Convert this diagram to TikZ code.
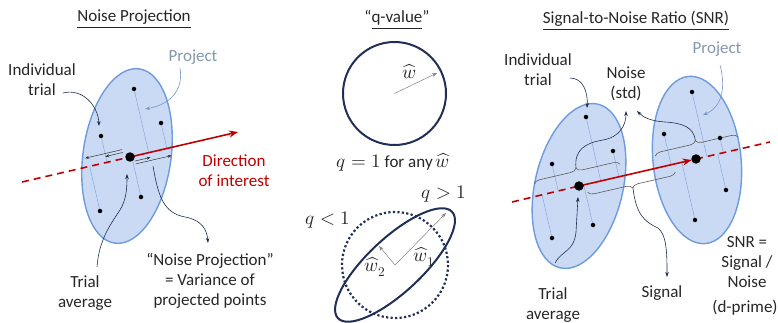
\documentclass[tikz,border=0pt]{standalone}
\usepackage{fontspec}
\usepackage{unicode-math}
\setmainfont{Carlito}
\setmathfont{Latin Modern Math}[Scale=1.12]
\usetikzlibrary{arrows.meta,calc,decorations.pathreplacing}
\definecolor{ellfill}{RGB}{203,218,244}
\definecolor{ellline}{RGB}{110,155,220}
\definecolor{projline}{RGB}{140,168,215}
\definecolor{redline}{RGB}{192,0,0}
\definecolor{navy}{RGB}{31,46,80}
\definecolor{projtxt}{RGB}{132,151,176}
\definecolor{projarrow}{RGB}{120,150,200}
\definecolor{bracegray}{RGB}{90,90,90}
\definecolor{circnavy}{RGB}{32,46,88}
\tikzset{
 cloud/.style={fill=ellfill, draw=ellline, line width=1.4pt},
 projln/.style={draw=projline, line width=0.5pt},
 obs/.style={circle, fill=black, inner sep=0pt, minimum size=4.5pt},
 bigdot/.style={circle, fill=black, inner sep=0pt, minimum size=9.5pt},
 redsolid/.style={draw=redline, line width=1.6pt, -{Stealth[length=9pt,width=7pt]}},
 reddash/.style={draw=redline, line width=1.6pt, dash pattern=on 7pt off 5pt},
 lbl/.style={font=\fontsize{17}{20}\selectfont, align=center, inner sep=0pt, text=black!85},
 callarrow/.style={draw=navy, line width=0.6pt, -{Stealth[length=5pt,width=3.5pt]}},
 projcall/.style={draw=projarrow, line width=0.6pt, -{Stealth[length=5pt,width=3.5pt]}},
 projarr/.style={draw=black!80, line width=0.5pt, -{Stealth[length=4pt,width=3pt]}},
 bracestyle/.style={draw=bracegray, line width=0.6pt, decorate, decoration={brace, amplitude=6pt}},
 bracedown/.style={draw=bracegray, line width=0.6pt, decorate, decoration={brace, mirror, amplitude=6pt}},
 ring/.style={draw=circnavy, line width=2pt},
 wvec/.style={draw=gray, line width=0.5pt, -{Stealth[length=5pt,width=3.5pt]}},
}
\begin{document}
\begin{tikzpicture}[x=1pt,y=-1pt]
\useasboundingbox (0,0) rectangle (778,323);

% ================= LEFT PANEL =================
\node[lbl] (t1) at (134,19) {\underline{Noise Projection}};
\coordinate (cL) at (130,157);
\coordinate (tipL) at (238,132);
\coordinate (startL) at (22,182);
\draw[cloud, rotate around={-8:(127,156)}] (127,156) ellipse (44 and 88);
\coordinate (l1) at (134,89);
\coordinate (l2) at (161,123);
\coordinate (l3) at (101,136);
\coordinate (l4) at (141,197);
\coordinate (l5) at (100,211);
\foreach \p in {l1,l2,l3,l4,l5} \draw[projln] (\p) -- ($(cL)!(\p)!(tipL)$);
\draw[reddash] (startL) -- (cL);
\draw[redsolid] (cL) -- (tipL);
% projected distance arrows
\coordinate (a1s) at (122.1,149.6); \coordinate (a1e) at (85.1,158.2);
\coordinate (a2s) at (122.8,152.5); \coordinate (a2e) at (105.3,156.6);
\coordinate (a3s) at (135.0,161.0); \coordinate (a3e) at (150.6,157.4);
\coordinate (a4s) at (135.7,163.9); \coordinate (a4e) at (171.7,155.6);
\draw[projarr] (a1s) -- (a1e);
\draw[projarr] (a2s) -- (a2e);
\draw[projarr] (a3s) -- (a3e);
\draw[projarr] (a4s) -- (a4e);
\foreach \p in {l1,l2,l3,l4,l5} \node[obs] (d\p) at (\p) {};
\node[bigdot] (avgL) at (cL) {};

\node[lbl] (indL) at (42,80) {Individual\\trial};
\coordinate (indLs) at (63,93); \coordinate (indLe) at (99,126);
\draw[callarrow] (indLs) .. controls (82,88) and (98,105) .. (indLe);
\node[lbl, text=projtxt] (projL) at (193,57) {Project};
\coordinate (projLs) at (180,68); \coordinate (projLe) at (145,109);
\draw[projcall] (projLs) .. controls (184,92) and (168,105) .. (projLe);
\node[lbl, text=redline] (dir) at (234,171) {Direction\\of interest};
\node[lbl] (avgtxtL) at (85,293) {Trial\\average};
\coordinate (avgLs) at (97,267); \coordinate (avgLe) at (127,174);
\draw[callarrow] (avgLs) .. controls (99,240) and (110,225) .. (120,210) .. controls (126,200) and (127,190) .. (avgLe);
\node[lbl] (nptxt) at (210,281) {“Noise Projection”\\= Variance of\\projected points};
\coordinate (npLs) at (153,166); \coordinate (npLe) at (208,243);
\draw[callarrow] (npLs) .. controls (158,195) and (163,213) .. (185,217) .. controls (202,220) and (207,230) .. (npLe);

% ================= MIDDLE PANEL =================
\node[lbl] (t2) at (397,20) {“\underline{q-value}”};
\coordinate (m1) at (394.5,93.5);
\draw[ring] (m1) circle (51.5);
\coordinate (wtip) at (437,73);
\draw[wvec] (m1) -- (wtip);
\node[lbl] (wlab) at (409,72) {$\widehat{w}$};
\node[lbl] (q1) at (393,162) {$q=1$ for any\,$\widehat{w}$};
\node[lbl] (qgt) at (444,194) {$q>1$};
\node[lbl] (qlt) at (328,220) {$q<1$};
\coordinate (m2) at (395,265);
\draw[ring, line width=2.2pt, dash pattern=on 2.2pt off 2.3pt] (m2) circle (53);
\draw[ring, rotate around={43:(m2)}] (m2) ellipse (78 and 27);
\coordinate (w1tip) at (446,213);
\coordinate (w2tip) at (379,246);
\draw[wvec] (m2) -- (w1tip);
\draw[wvec] (m2) -- (w2tip);
\node[lbl] (w1lab) at (424,257) {$\widehat{w}_1$};
\node[lbl] (w2lab) at (375,267) {$\widehat{w}_2$};

% ================= RIGHT PANEL =================
\node[lbl] (t3) at (636,21) {\underline{Signal-to-Noise Ratio (SNR)}};
\coordinate (A) at (579,186);
\coordinate (B) at (696,159);
\coordinate (startR) at (512,202);
\coordinate (endR) at (770,142);
\draw[cloud, rotate around={-13:(A)}] (A) ellipse (44 and 84);
\draw[cloud, rotate around={6:(697,160)}] (697,160) ellipse (44 and 84);
\coordinate (r1) at (586,117);
\coordinate (r2) at (613,151);
\coordinate (r3) at (552,164);
\coordinate (r4) at (593,225);
\coordinate (r5) at (552,238);
\coordinate (s1) at (692,92);
\coordinate (s2) at (664,134);
\coordinate (s3) at (720,138);
\coordinate (s4) at (726,190);
\coordinate (s5) at (695,220);
\foreach \p in {r1,r2,r3,r4,r5} \draw[projln] (\p) -- ($(A)!(\p)!(B)$);
\foreach \p in {s1,s2,s3,s4,s5} \draw[projln] (\p) -- ($(A)!(\p)!(B)$);
\draw[reddash] (startR) -- (A);
\draw[redsolid, shorten >=4.5pt] (A) -- (B);
\draw[reddash] (B) -- (endR);
% braces
\coordinate (b1s) at (534.4,184); \coordinate (b1e) at (620.1,164.2);
\coordinate (b2s) at (655.3,156.1); \coordinate (b2e) at (738.1,137);
\coordinate (b3s) at (587.6,192.2); \coordinate (b3e) at (675.3,172);
\draw[bracestyle] (b1s) -- (b1e);
\draw[bracestyle] (b2s) -- (b2e);
\draw[bracedown] (b3s) -- (b3e);
\foreach \p in {r1,r2,r3,r4,r5,s1,s2,s3,s4,s5} \node[obs] (d\p) at (\p) {};
\node[bigdot] (avgA) at (A) {};
\node[bigdot] (avgB) at (B) {};

\node[lbl] (indR) at (538,70) {Individual\\trial};
\coordinate (indRs) at (570,78); \coordinate (indRe) at (587,108);
\draw[callarrow] (indRs) .. controls (583,78) and (588,92) .. (indRe);
\node[lbl] (noise) at (626,84) {Noise\\(std)};
\coordinate (nb1) at (576,168); \coordinate (n1e) at (626,111);
\draw[callarrow] (nb1) .. controls (574,150) and (585,143) .. (603,140) .. controls (620,137) and (626,125) .. (n1e);
\coordinate (nb2) at (695.4,140.7); \coordinate (n2e) at (637,111);
\draw[callarrow] (nb2) .. controls (694,127) and (682,123) .. (665,122) .. controls (650,121) and (643,117) .. (n2e);
\node[lbl, text=projtxt] (projR) at (717,49) {Project};
\coordinate (projRs) at (720,65); \coordinate (projRe) at (703,115);
\draw[projcall] (projRs) .. controls (726,88) and (722,107) .. (projRe);
\node[lbl] (signal) at (662,293) {Signal};
\coordinate (nbs) at (633,188); \coordinate (sige) at (667,277);
\draw[callarrow] (nbs) .. controls (636,215) and (645,222) .. (658,228) .. controls (667,235) and (667,255) .. (sige);
\node[lbl] (avgtxtR) at (553,305) {Trial\\average};
\coordinate (avgRs) at (555,263); \coordinate (avgRe) at (578,197);
\draw[callarrow] (avgRs) .. controls (562,250) and (574,252) .. (576,232) -- (avgRe);
\node[lbl] (snr) at (747,262) {SNR =\\Signal /\\Noise};
\node[lbl] (dprime) at (745,308) {(d-prime)};
\end{tikzpicture}
\end{document}
